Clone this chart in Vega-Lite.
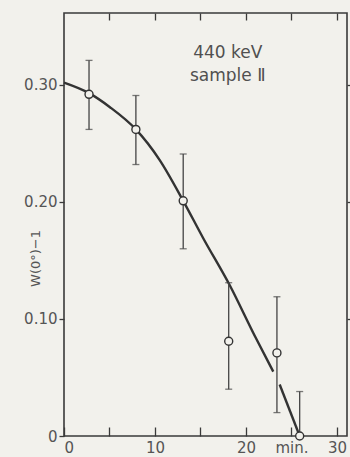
{
  "$schema": "https://vega.github.io/schema/vega-lite/v6.json",
  "width": 283,
  "height": 423,
  "autosize": "none",
  "padding": {"left": 64, "top": 13, "right": 3, "bottom": 21},
  "background": "#f2f1ec",
  "config": {
    "view": {"stroke": "#3a3a3a", "strokeWidth": 1.6},
    "axis": {"labelFont": "DejaVu Sans", "labelColor": "#555", "titleFont": "DejaVu Sans", "titleColor": "#555", "tickColor": "#3a3a3a", "tickWidth": 1.3, "domain": false, "grid": false}
  },
  "datasets": {
    "curve": [
      {"t": 0, "w": 0.302, "seg": 1},
      {"t": 2.75, "w": 0.293, "seg": 1},
      {"t": 5.05, "w": 0.281, "seg": 1},
      {"t": 7.9, "w": 0.262, "seg": 1},
      {"t": 10.5, "w": 0.236, "seg": 1},
      {"t": 13.1, "w": 0.201, "seg": 1},
      {"t": 15.3, "w": 0.169, "seg": 1},
      {"t": 18.2, "w": 0.129, "seg": 1},
      {"t": 21.0, "w": 0.085, "seg": 1},
      {"t": 23.0, "w": 0.055, "seg": 1},
      {"t": 23.7, "w": 0.044, "seg": 2},
      {"t": 25.9, "w": 0.0, "seg": 2}
    ],
    "points": [
      {"t": 2.75, "w": 0.292, "lo": 0.262, "hi": 0.321},
      {"t": 7.9, "w": 0.262, "lo": 0.232, "hi": 0.291},
      {"t": 13.1, "w": 0.201, "lo": 0.160, "hi": 0.241},
      {"t": 18.1, "w": 0.081, "lo": 0.040, "hi": 0.131},
      {"t": 23.4, "w": 0.071, "lo": 0.020, "hi": 0.119},
      {"t": 25.9, "w": 0.0, "lo": 0.0, "hi": 0.038}
    ],
    "labels": [
      {"t": 18.0, "w": 0.323, "text": "440 keV"},
      {"t": 18.0, "w": 0.3035, "text": "sample Ⅱ"}
    ]
  },
  "layer": [
    {
      "data": {"name": "curve"},
      "mark": {"type": "line", "color": "#333", "strokeWidth": 2.4, "interpolate": "monotone"},
      "encoding": {
        "x": {"field": "t", "type": "quantitative", "scale": {"domain": [0, 31.1], "nice": false, "zero": false},
          "axis": {"orient": "bottom", "values": [0, 5, 10, 15, 20, 25, 30], "tickSize": -9, "labelPadding": 13, "labelFontSize": 15,
            "labelExpr": "datum.value == 25 ? 'min.' : (datum.value % 10 == 0 ? datum.label : '')", "title": null}},
        "y": {"field": "w", "type": "quantitative", "scale": {"domain": [0, 0.3615], "nice": false},
          "axis": {"orient": "left", "values": [0, 0.1, 0.2, 0.3], "tickSize": 5, "labelPadding": 2, "labelFontSize": 15,
            "labelExpr": "datum.value == 0 ? '0' : format(datum.value, '.2f')",
            "title": "W(0°)−1", "titleFontSize": 13, "titleFontWeight": "normal", "titleX": -29, "titleY": 245, "titleAlign": "center", "titleBaseline": "middle", "titleAngle": 270}},
        "detail": {"field": "seg"}
      }
    },
    {
      "data": {"name": "points"},
      "mark": {"type": "rule", "color": "#444", "strokeWidth": 1.3},
      "encoding": {
        "x": {"field": "t", "type": "quantitative",
          "axis": {"orient": "top", "values": [5, 10, 15, 20, 25, 30], "tickSize": -7, "labels": false, "title": null}},
        "y": {"field": "lo", "type": "quantitative",
          "axis": {"orient": "right", "values": [0.1, 0.2, 0.3], "tickSize": 4, "labels": false, "title": null}},
        "y2": {"field": "hi"}
      }
    },
    {
      "data": {"name": "points"},
      "mark": {"type": "tick", "orient": "horizontal", "color": "#444", "size": 7, "thickness": 1.3},
      "encoding": {
        "x": {"field": "t", "type": "quantitative", "axis": null},
        "y": {"field": "hi", "type": "quantitative", "axis": null}
      }
    },
    {
      "data": {"name": "points"},
      "mark": {"type": "tick", "orient": "horizontal", "color": "#444", "size": 7, "thickness": 1.3},
      "encoding": {
        "x": {"field": "t", "type": "quantitative", "axis": null},
        "y": {"field": "lo", "type": "quantitative", "axis": null}
      }
    },
    {
      "data": {"name": "points"},
      "mark": {"type": "point", "shape": "circle", "filled": true, "fill": "#f2f1ec", "stroke": "#333", "strokeWidth": 1.4, "size": 64, "opacity": 1, "clip": false},
      "encoding": {
        "x": {"field": "t", "type": "quantitative", "axis": null},
        "y": {"field": "w", "type": "quantitative", "axis": null}
      }
    },
    {
      "data": {"name": "labels"},
      "mark": {"type": "text", "font": "DejaVu Sans", "fontSize": 17, "color": "#505050", "align": "center", "baseline": "alphabetic"},
      "encoding": {
        "x": {"field": "t", "type": "quantitative", "axis": null},
        "y": {"field": "w", "type": "quantitative", "axis": null},
        "text": {"field": "text"}
      }
    }
  ]
}
